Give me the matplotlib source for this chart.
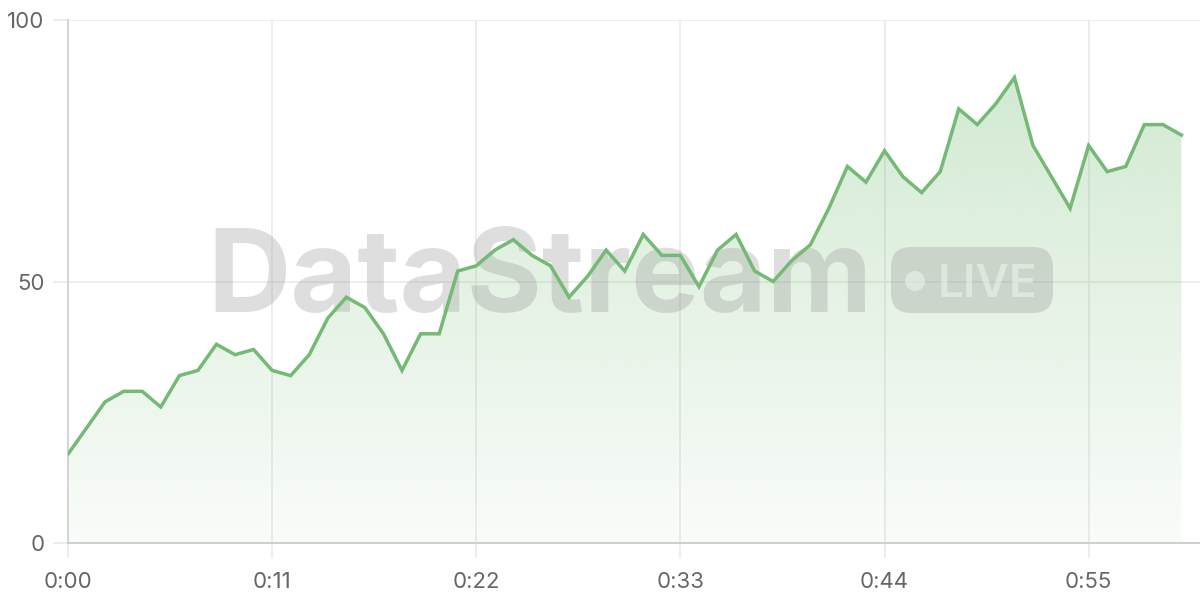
import matplotlib.pyplot as plt
import numpy as np
from matplotlib.patches import FancyBboxPatch, Circle

# one reading per minute, 0:00 .. 1:00
values = [17, 22, 27, 29, 29, 26, 32, 33, 38, 36, 37, 33, 32, 36, 43, 47, 45, 40, 33, 40, 40,
          52, 53, 56, 58, 55, 53, 47, 51, 56, 52, 59, 55, 55, 49, 56, 59, 52, 50, 54, 57,
          64, 72, 69, 75, 70, 67, 71, 83, 80, 84, 89, 76, 70, 64, 76, 71, 72, 80, 80, 78]
x_ticks = [0, 11, 22, 33, 44, 55]
x_labels = ['0:00', '0:11', '0:22', '0:33', '0:44', '0:55']
y_ticks = [0, 50, 100]

line_color = '#74ba74'
plt.rcParams['font.family'] = ['Inter', 'DejaVu Sans']

fig = plt.figure(figsize=(12, 6), dpi=100)
ax = fig.add_axes([68 / 1200, 57 / 600, 1 - 68 / 1200, 523 / 600])

minutes = np.arange(len(values))

# gradient fill under the line
poly = ax.fill_between(minutes, values, 0, color='none', lw=0)
alphas = np.linspace(0.35, 0.04, 256)[:, None]
grad = np.zeros((256, 1, 4))
grad[..., 0] = 114 / 255
grad[..., 1] = 187 / 255
grad[..., 2] = 114 / 255
grad[..., 3] = alphas
img = ax.imshow(grad, extent=[0, 60, 0, 100], aspect='auto', origin='upper', zorder=1)
img.set_clip_path(poly.get_paths()[0], transform=ax.transData)

ax.plot(minutes, values, color=line_color, linewidth=2.5, zorder=4, solid_joinstyle='miter')

# watermark
wm = '#9a9a9a'
ax.text(540 / 1200, (600 - 312) / 600, 'DataStream', transform=fig.transFigure,
        ha='center', va='baseline', fontsize=83, fontweight='bold', color=wm, alpha=0.32,
        zorder=2, clip_on=False)
badge = FancyBboxPatch((8.91, 2.87), 1.62, 0.66, boxstyle='round,pad=0,rounding_size=0.2',
                       transform=fig.dpi_scale_trans, facecolor=wm, edgecolor='none',
                       alpha=0.32, zorder=2, clip_on=False)
ax.add_patch(badge)
ax.add_patch(Circle((9.15, 3.19), 0.10, transform=fig.dpi_scale_trans, facecolor='#eef6ee',
                    alpha=0.55, zorder=2.5, clip_on=False))
ax.text(938 / 1200, (600 - 297) / 600, 'LIVE', transform=fig.transFigure, ha='left',
        va='baseline', fontsize=33, fontweight='semibold', color='#eef6ee', alpha=0.55,
        zorder=2.5, clip_on=False)

ax.set_xlim(0, 61)
ax.set_ylim(0, 100)
ax.set_xticks(x_ticks)
ax.set_xticklabels(x_labels)
ax.set_yticks(y_ticks)

ax.grid(True, color='#e8e8e8', linewidth=1.1, zorder=0)
ax.set_axisbelow(True)
ax.tick_params(axis='both', colors='#e8e8e8', width=1.1, length=11, labelcolor='#666666',
               labelsize=16)
ax.tick_params(axis='x', pad=10)
ax.tick_params(axis='y', pad=6)

for s in ['top', 'right']:
    ax.spines[s].set_visible(False)
ax.spines['left'].set_color('#d4d4d4')
ax.spines['left'].set_linewidth(1.4)
ax.spines['bottom'].set_color('#cfcfcf')
ax.spines['bottom'].set_linewidth(1.4)

plt.savefig('out.png', dpi=100)
